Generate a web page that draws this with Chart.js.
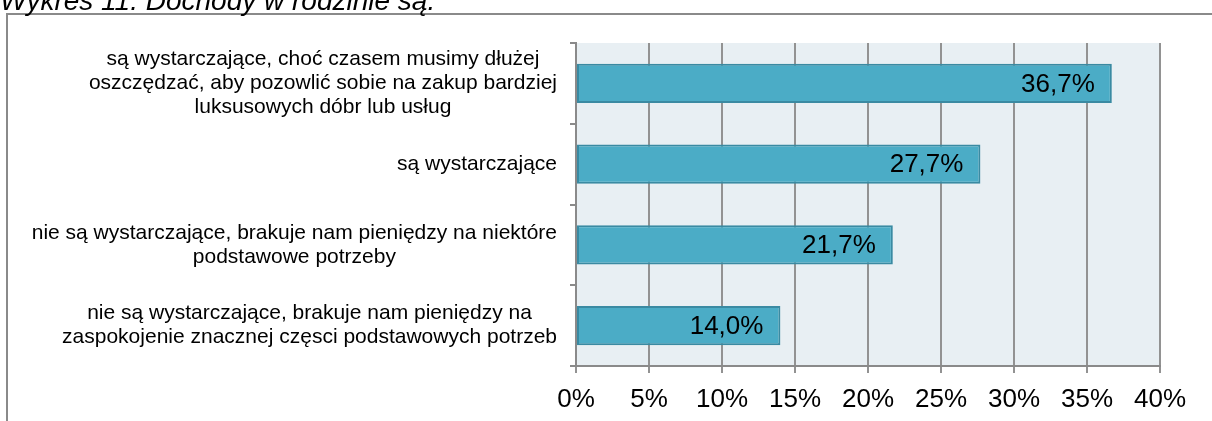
<!DOCTYPE html>
<html>
<head>
<meta charset="utf-8">
<script src="https://cdn.jsdelivr.net/npm/chart.js@4/dist/chart.umd.min.js"></script>
<style>
  html, body { margin: 0; padding: 0; background: #fff; }
  #wrap { position: relative; width: 1212px; height: 421px; }
</style>
</head>
<body>
<div id="wrap"><canvas id="incomeChart" width="1212" height="421"></canvas></div>
<script>
const titleText = 'Wykres 11. Dochody w rodzinie są.';
const categories = [
    ['są wystarczające, choć czasem musimy dłużej', 'oszczędzać, aby pozowlić sobie na zakup bardziej', 'luksusowych dóbr lub usług'],
    ['są wystarczające'],
    ['nie są wystarczające, brakuje nam pieniędzy na niektóre', 'podstawowe potrzeby'],
    ['nie są wystarczające, brakuje nam pieniędzy na', 'zaspokojenie znacznej częsci podstawowych potrzeb']
];
const values = [36.7, 27.7, 21.7, 14.0];
const xMin = 0;
const xMax = 40;
const xStep = 5;

const FONT = '"Liberation Sans", Arial, sans-serif';

// background of the plot, outer frame and title
const framePlugin = {
    id: 'framePlugin',
    beforeDraw(chart) {
        const ctx = chart.ctx;
        const a = chart.chartArea;
        ctx.save();
        ctx.fillStyle = '#e8eff3';
        ctx.fillRect(a.left, a.top, a.right - a.left, a.bottom - a.top);
        ctx.strokeStyle = '#8a8a8a';
        ctx.lineWidth = 2;
        ctx.beginPath();
        ctx.moveTo(7, 421);
        ctx.lineTo(7, 14);
        ctx.lineTo(1212, 14);
        ctx.stroke();
        ctx.fillStyle = '#000';
        ctx.font = 'italic 28px ' + FONT;
        ctx.textAlign = 'left';
        ctx.textBaseline = 'alphabetic';
        ctx.fillText(titleText, 0, 10);
        ctx.restore();
    }
};

// multi-line category labels, each block centred on its own widest line
const categoryLabels = {
    id: 'categoryLabels',
    afterDraw(chart) {
        const ctx = chart.ctx;
        const yScale = chart.scales.y;
        const right = chart.chartArea.left - 19;
        const lh = 24;
        ctx.save();
        ctx.font = '21px ' + FONT;
        ctx.fillStyle = '#000';
        ctx.textAlign = 'center';
        ctx.textBaseline = 'middle';
        categories.forEach((lines, i) => {
            const y = yScale.getPixelForTick(i);
            const maxW = Math.max(...lines.map(l => ctx.measureText(l).width));
            const cx = right - maxW / 2;
            lines.forEach((l, j) => {
                ctx.fillText(l, cx, y - (lines.length - 1) * lh / 2 + j * lh);
            });
        });
        ctx.restore();
    }
};

// value labels inside the bar end
const valueLabels = {
    id: 'valueLabels',
    afterDatasetsDraw(chart) {
        const ctx = chart.ctx;
        const meta = chart.getDatasetMeta(0);
        ctx.save();
        ctx.font = '26px ' + FONT;
        ctx.fillStyle = '#000';
        ctx.textAlign = 'right';
        ctx.textBaseline = 'middle';
        meta.data.forEach((bar, i) => {
            const txt = values[i].toFixed(1).replace('.', ',') + '%';
            ctx.fillText(txt, bar.x - 17, bar.y + 1);
        });
        ctx.restore();
    }
};

const ctx = document.getElementById('incomeChart').getContext('2d');
new Chart(ctx, {
    type: 'bar',
    data: {
        labels: categories,
        datasets: [
            {
                data: values,
                backgroundColor: '#4bacc6',
                borderColor: '#3a8aa2',
                borderWidth: 2,
                borderSkipped: false,
                barPercentage: 0.483,
                categoryPercentage: 1
            }
        ]
    },
    options: {
        indexAxis: 'y',
        responsive: false,
        animation: false,
        layout: {
            padding: { top: 43, right: 52, left: 0, bottom: 0 }
        },
        plugins: {
            legend: { display: false },
            tooltip: { enabled: false }
        },
        scales: {
            x: {
                min: xMin,
                max: xMax,
                ticks: {
                    stepSize: xStep,
                    color: '#000',
                    padding: 11,
                    font: { family: FONT, size: 26 },
                    callback: v => v + '%'
                },
                grid: {
                    color: '#929292',
                    lineWidth: 2,
                    tickLength: 7
                },
                border: { color: '#8a8a8a', width: 2 },
                afterFit: scale => { scale.height = 55; }
            },
            y: {
                offset: true,
                ticks: { display: false },
                grid: {
                    offset: true,
                    drawOnChartArea: false,
                    color: '#8a8a8a',
                    lineWidth: 2,
                    tickLength: 6
                },
                border: { color: '#8a8a8a', width: 2 },
                afterFit: scale => { scale.width = 576; }
            }
        }
    },
    plugins: [framePlugin, categoryLabels, valueLabels]
});
</script>
</body>
</html>
